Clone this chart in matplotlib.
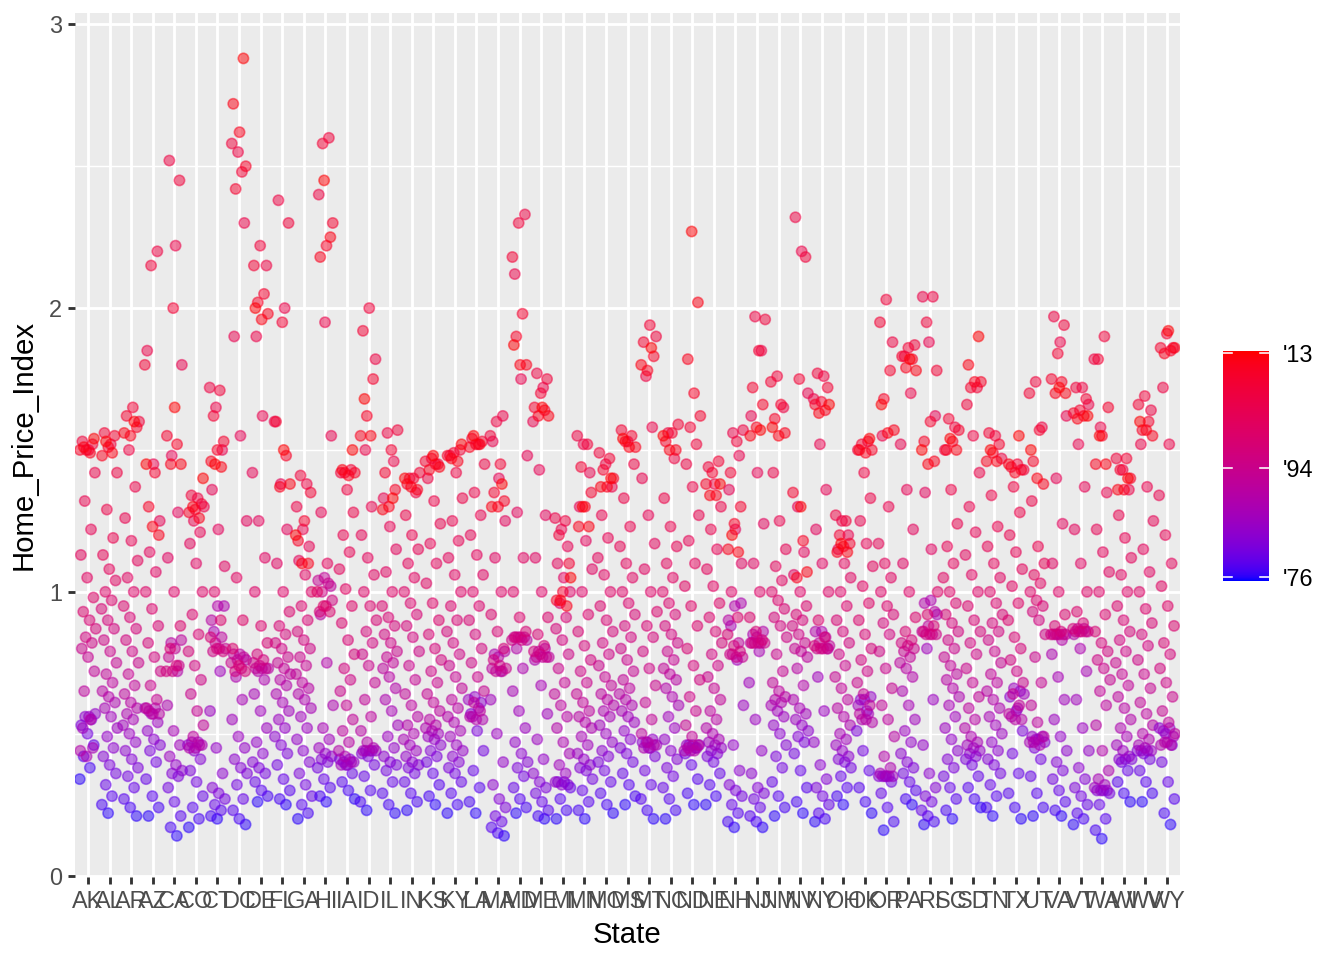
import numpy as np
import matplotlib
matplotlib.use("Agg")
import matplotlib.pyplot as plt
from matplotlib.colors import ListedColormap, Normalize

plt.rcParams["font.family"] = ["Liberation Sans", "DejaVu Sans"]

# one value per year, 1976 .. 2013
years = list(range(1976, 2014))
states = ["AK", "AL", "AR", "AZ", "CA", "CO", "CT", "DC", "DE", "FL", "GA", "HI", "IA",
          "ID", "IL", "IN", "KS", "KY", "LA", "MA", "MD", "ME", "MI", "MN", "MO", "MS",
          "MT", "NC", "ND", "NE", "NH", "NJ", "NM", "NV", "NY", "OH", "OK", "OR", "PA",
          "RI", "SC", "SD", "TN", "TX", "UT", "VA", "VT", "WA", "WI", "WV", "WY"]

AK = [.34, .38, .42, .46, .50, .53, .55, .56, .57, .56, .52, .45, .42, .44, .55, .65, .72, .77, .80, .82,
      .84, .87, .90, .93, .98, 1.05, 1.13, 1.22, 1.32, 1.42, 1.50, 1.53, 1.52, 1.50, 1.50, 1.49, 1.51, 1.54]
AL = [.22, .25, .28, .32, .36, .39, .42, .45, .49, .52, .56, .59, .61, .63, .65, .68, .71, .75, .79, .83,
      .87, .90, .94, .97, 1.00, 1.04, 1.08, 1.13, 1.19, 1.29, 1.42, 1.52, 1.56, 1.55, 1.51, 1.48, 1.49, 1.53]
AR = [.21, .24, .27, .31, .35, .38, .41, .44, .47, .50, .53, .55, .57, .59, .61, .64, .67, .71, .75, .79,
      .83, .87, .91, .95, 1.00, 1.05, 1.11, 1.18, 1.26, 1.37, 1.50, 1.60, 1.65, 1.62, 1.58, 1.55, 1.56, 1.60]
AZ = [.21, .24, .28, .34, .40, .44, .46, .48, .51, .54, .57, .59, .59, .58, .57, .57, .59, .62, .67, .72,
      .77, .82, .88, .94, 1.00, 1.07, 1.14, 1.25, 1.45, 1.85, 2.20, 2.15, 1.80, 1.42, 1.30, 1.20, 1.23, 1.45]
CA = [.14, .17, .21, .26, .31, .35, .36, .37, .39, .42, .46, .51, .60, .72, .82, .83, .80, .77, .74, .72,
      .72, .74, .80, .88, 1.00, 1.12, 1.28, 1.48, 1.80, 2.22, 2.52, 2.45, 2.00, 1.55, 1.52, 1.45, 1.45, 1.65]
CO = [.17, .20, .24, .28, .33, .37, .41, .44, .46, .47, .47, .46, .45, .45, .46, .49, .53, .58, .64, .69,
      .74, .79, .85, .92, 1.00, 1.10, 1.17, 1.21, 1.25, 1.30, 1.33, 1.34, 1.31, 1.29, 1.28, 1.26, 1.30, 1.40]
CT = [.20, .21, .23, .25, .27, .29, .31, .36, .45, .58, .72, .86, .95, .95, .90, .84, .82, .80, .80, .79,
      .79, .80, .84, .90, 1.00, 1.09, 1.22, 1.36, 1.50, 1.65, 1.72, 1.71, 1.62, 1.53, 1.50, 1.46, 1.44, 1.45]
DC = [.18, .20, .23, .27, .32, .36, .38, .41, .45, .49, .55, .62, .70, .76, .78, .78, .77, .76, .75, .73,
      .72, .72, .74, .80, .90, 1.05, 1.25, 1.55, 1.90, 2.30, 2.55, 2.58, 2.48, 2.42, 2.50, 2.62, 2.72, 2.88]
DE = [.26, .28, .30, .33, .36, .38, .40, .43, .47, .52, .58, .64, .69, .72, .73, .73, .73, .73, .74, .75,
      .76, .78, .82, .88, 1.00, 1.12, 1.25, 1.42, 1.62, 1.90, 2.15, 2.22, 2.15, 2.05, 2.02, 1.98, 1.96, 2.00]
FL = [.25, .27, .30, .34, .39, .43, .46, .49, .52, .55, .58, .61, .64, .67, .69, .71, .73, .75, .77, .80,
      .82, .85, .88, .93, 1.00, 1.10, 1.22, 1.38, 1.60, 2.00, 2.38, 2.30, 1.95, 1.60, 1.48, 1.37, 1.38, 1.50]
GA = [.20, .22, .25, .28, .32, .36, .40, .44, .48, .52, .56, .59, .62, .64, .66, .68, .71, .74, .77, .80,
      .83, .86, .90, .95, 1.00, 1.06, 1.11, 1.16, 1.22, 1.30, 1.38, 1.41, 1.35, 1.25, 1.18, 1.10, 1.10, 1.20]
HI = [.26, .28, .31, .34, .38, .40, .41, .42, .43, .45, .48, .52, .60, .75, .92, 1.02, 1.05, 1.04, 1.03, 1.00,
      .97, .95, .93, .93, .95, 1.00, 1.10, 1.28, 1.55, 1.95, 2.40, 2.60, 2.58, 2.30, 2.22, 2.18, 2.25, 2.45]
IA = [.27, .30, .33, .36, .39, .41, .41, .40, .40, .39, .39, .40, .42, .44, .47, .51, .55, .60, .65, .69,
      .73, .78, .83, .89, .95, 1.01, 1.08, 1.14, 1.20, 1.28, 1.36, 1.42, 1.43, 1.42, 1.42, 1.41, 1.43, 1.50]
ID = [.23, .26, .30, .35, .39, .42, .43, .44, .44, .44, .44, .44, .45, .47, .51, .56, .62, .68, .74, .78,
      .82, .86, .90, .95, 1.00, 1.06, 1.12, 1.20, 1.30, 1.50, 1.82, 2.00, 1.92, 1.75, 1.62, 1.55, 1.55, 1.68]
IL = [.22, .25, .29, .33, .37, .39, .40, .42, .45, .49, .53, .58, .62, .66, .70, .73, .75, .77, .79, .82,
      .85, .88, .91, .95, 1.00, 1.07, 1.15, 1.23, 1.33, 1.46, 1.56, 1.57, 1.50, 1.42, 1.36, 1.30, 1.29, 1.33]
IN = [.23, .26, .29, .33, .36, .38, .39, .40, .42, .44, .46, .48, .50, .53, .56, .60, .64, .69, .74, .79,
      .84, .88, .92, .96, 1.00, 1.05, 1.10, 1.15, 1.20, 1.27, 1.35, 1.40, 1.42, 1.40, 1.38, 1.36, 1.37, 1.40]
KS = [.25, .28, .32, .36, .40, .42, .44, .46, .48, .49, .50, .51, .52, .53, .55, .58, .61, .64, .68, .72,
      .76, .80, .85, .90, .96, 1.03, 1.10, 1.17, 1.24, 1.32, 1.40, 1.45, 1.47, 1.46, 1.45, 1.43, 1.44, 1.48]
KY = [.22, .25, .29, .33, .36, .38, .40, .42, .44, .46, .49, .51, .54, .56, .59, .62, .66, .70, .74, .78,
      .82, .86, .90, .95, 1.00, 1.06, 1.12, 1.18, 1.25, 1.33, 1.42, 1.48, 1.50, 1.49, 1.48, 1.46, 1.47, 1.52]
LA = [.22, .26, .31, .37, .44, .51, .57, .61, .63, .62, .59, .56, .55, .55, .56, .58, .61, .65, .70, .75,
      .80, .85, .90, .95, 1.00, 1.06, 1.13, 1.20, 1.27, 1.35, 1.45, 1.52, 1.54, 1.53, 1.52, 1.51, 1.52, 1.55]
MA = [.14, .15, .17, .19, .21, .24, .27, .32, .40, .50, .62, .72, .78, .79, .77, .73, .72, .72, .73, .74,
      .76, .80, .86, .92, 1.00, 1.12, 1.25, 1.40, 1.53, 1.62, 1.60, 1.55, 1.45, 1.35, 1.32, 1.30, 1.30, 1.38]
MD = [.22, .24, .27, .31, .35, .38, .40, .43, .47, .52, .58, .65, .73, .80, .83, .84, .84, .84, .84, .83,
      .83, .84, .86, .91, 1.00, 1.12, 1.28, 1.48, 1.75, 2.12, 2.33, 2.30, 2.18, 1.98, 1.90, 1.80, 1.80, 1.87]
ME = [.20, .21, .23, .26, .29, .31, .33, .36, .41, .48, .57, .67, .76, .80, .79, .77, .77, .77, .77, .78,
      .79, .81, .85, .91, 1.00, 1.12, 1.27, 1.43, 1.60, 1.72, 1.77, 1.75, 1.70, 1.65, 1.64, 1.62, 1.62, 1.65]
MI = [.20, .23, .27, .31, .33, .33, .32, .32, .33, .36, .39, .43, .47, .52, .56, .60, .64, .68, .73, .78,
      .83, .87, .91, .96, 1.00, 1.05, 1.10, 1.16, 1.22, 1.26, 1.25, 1.20, 1.10, 1.00, .97, .95, .97, 1.05]
MN = [.20, .23, .26, .30, .34, .37, .38, .39, .41, .43, .46, .49, .52, .54, .56, .58, .61, .64, .68, .72,
      .76, .81, .86, .92, 1.00, 1.08, 1.18, 1.30, 1.42, 1.52, 1.55, 1.52, 1.44, 1.35, 1.30, 1.23, 1.23, 1.30]
MO = [.22, .25, .29, .33, .37, .40, .42, .44, .47, .50, .53, .56, .58, .60, .62, .64, .67, .70, .74, .78,
      .82, .86, .90, .95, 1.00, 1.06, 1.12, 1.19, 1.27, 1.37, 1.45, 1.49, 1.47, 1.43, 1.40, 1.37, 1.37, 1.40]
MS = [.25, .28, .32, .36, .40, .43, .45, .48, .51, .54, .56, .58, .60, .62, .64, .66, .69, .72, .76, .80,
      .84, .88, .92, .96, 1.00, 1.05, 1.10, 1.16, 1.23, 1.33, 1.45, 1.53, 1.57, 1.55, 1.53, 1.51, 1.51, 1.54]
MT = [.20, .23, .27, .32, .37, .42, .45, .47, .48, .47, .46, .45, .45, .46, .47, .50, .55, .61, .67, .73,
      .79, .84, .88, .93, 1.00, 1.08, 1.17, 1.27, 1.40, 1.58, 1.76, 1.90, 1.94, 1.88, 1.83, 1.78, 1.80, 1.86]
NC = [.20, .23, .27, .31, .35, .38, .41, .44, .48, .52, .56, .60, .63, .66, .69, .71, .73, .76, .79, .82,
      .85, .88, .92, .96, 1.00, 1.05, 1.10, 1.16, 1.23, 1.33, 1.47, 1.56, 1.59, 1.56, 1.53, 1.50, 1.50, 1.55]
ND = [.25, .29, .34, .39, .43, .45, .46, .46, .46, .46, .45, .44, .44, .44, .45, .46, .49, .53, .58, .63,
      .69, .74, .80, .88, .95, 1.02, 1.10, 1.18, 1.27, 1.37, 1.45, 1.52, 1.58, 1.62, 1.70, 1.82, 2.02, 2.27]
NE = [.25, .28, .32, .36, .40, .42, .43, .44, .45, .46, .47, .48, .50, .52, .55, .58, .62, .66, .70, .74,
      .78, .82, .86, .91, .96, 1.02, 1.08, 1.15, 1.22, 1.30, 1.38, 1.44, 1.46, 1.42, 1.38, 1.34, 1.34, 1.38]
NH = [.17, .19, .22, .25, .28, .30, .32, .37, .46, .60, .76, .88, .96, .95, .90, .82, .78, .77, .77, .78,
      .79, .81, .85, .91, 1.00, 1.10, 1.22, 1.36, 1.48, 1.56, 1.57, 1.53, 1.42, 1.30, 1.24, 1.15, 1.14, 1.20]
NJ = [.17, .19, .21, .24, .27, .29, .31, .36, .44, .55, .68, .79, .85, .86, .84, .82, .82, .82, .82, .82,
      .82, .83, .86, .91, 1.00, 1.10, 1.24, 1.42, 1.62, 1.85, 1.97, 1.96, 1.85, 1.72, 1.66, 1.58, 1.55, 1.57]
NM = [.21, .24, .28, .33, .38, .42, .46, .50, .53, .56, .58, .60, .61, .62, .63, .65, .68, .72, .78, .84,
      .88, .91, .94, .97, 1.00, 1.04, 1.09, 1.15, 1.25, 1.42, 1.65, 1.76, 1.74, 1.66, 1.61, 1.56, 1.55, 1.58]
NV = [.22, .26, .31, .37, .43, .47, .49, .51, .53, .55, .57, .59, .62, .67, .73, .77, .79, .80, .82, .85,
      .88, .90, .92, .95, 1.00, 1.06, 1.14, 1.30, 1.70, 2.20, 2.32, 2.18, 1.75, 1.35, 1.18, 1.05, 1.07, 1.30]
NY = [.19, .20, .22, .25, .28, .31, .34, .39, .47, .58, .70, .80, .86, .86, .84, .82, .81, .80, .80, .80,
      .80, .81, .84, .90, 1.00, 1.10, 1.22, 1.36, 1.52, 1.68, 1.76, 1.77, 1.72, 1.67, 1.66, 1.64, 1.63, 1.66]
OH = [.25, .28, .31, .35, .38, .40, .41, .42, .44, .46, .48, .50, .53, .56, .59, .62, .66, .70, .74, .78,
      .82, .86, .90, .95, 1.00, 1.05, 1.10, 1.15, 1.20, 1.25, 1.27, 1.25, 1.20, 1.17, 1.16, 1.14, 1.14, 1.17]
OK = [.22, .26, .31, .37, .44, .51, .58, .62, .63, .62, .60, .57, .55, .54, .55, .57, .60, .64, .68, .72,
      .76, .80, .85, .90, .96, 1.02, 1.09, 1.17, 1.25, 1.33, 1.42, 1.50, 1.53, 1.52, 1.50, 1.49, 1.50, 1.54]
OR = [.16, .19, .24, .29, .33, .35, .35, .35, .35, .35, .35, .36, .38, .42, .49, .55, .60, .66, .73, .79,
      .85, .89, .92, .95, 1.00, 1.05, 1.10, 1.17, 1.30, 1.55, 1.88, 2.03, 1.95, 1.78, 1.68, 1.57, 1.56, 1.66]
PA = [.25, .27, .30, .33, .36, .38, .40, .43, .47, .51, .55, .60, .65, .70, .73, .75, .77, .79, .80, .81,
      .82, .83, .86, .91, 1.00, 1.10, 1.22, 1.36, 1.52, 1.70, 1.83, 1.87, 1.86, 1.83, 1.82, 1.79, 1.78, 1.82]
RI = [.18, .19, .21, .23, .26, .28, .31, .36, .46, .62, .80, .92, .97, .96, .93, .88, .86, .85, .85, .85,
      .85, .86, .88, .92, 1.00, 1.15, 1.35, 1.62, 1.88, 2.04, 2.04, 1.95, 1.78, 1.60, 1.53, 1.46, 1.45, 1.50]
SC = [.20, .23, .27, .31, .35, .38, .41, .44, .48, .52, .56, .60, .63, .66, .69, .71, .74, .77, .80, .83,
      .86, .89, .92, .96, 1.00, 1.05, 1.10, 1.16, 1.24, 1.36, 1.50, 1.58, 1.61, 1.57, 1.53, 1.50, 1.50, 1.54]
SD = [.24, .27, .31, .35, .39, .41, .42, .43, .44, .45, .46, .47, .49, .52, .55, .59, .63, .68, .73, .78,
      .82, .86, .90, .95, 1.00, 1.06, 1.13, 1.21, 1.30, 1.42, 1.55, 1.66, 1.72, 1.72, 1.74, 1.74, 1.80, 1.90]
TN = [.21, .24, .28, .32, .36, .39, .41, .44, .47, .50, .53, .56, .59, .62, .65, .68, .71, .75, .79, .83,
      .86, .89, .92, .96, 1.00, 1.05, 1.10, 1.16, 1.23, 1.34, 1.47, 1.55, 1.56, 1.52, 1.49, 1.46, 1.46, 1.50]
TX = [.20, .24, .29, .36, .43, .51, .58, .63, .65, .66, .64, .59, .56, .55, .55, .57, .60, .64, .68, .72,
      .76, .80, .84, .90, .96, 1.02, 1.08, 1.14, 1.20, 1.28, 1.37, 1.43, 1.45, 1.44, 1.43, 1.42, 1.45, 1.55]
UT = [.21, .24, .29, .35, .41, .45, .47, .48, .49, .49, .48, .47, .46, .47, .49, .54, .60, .68, .77, .85,
      .90, .93, .95, .97, 1.00, 1.03, 1.06, 1.10, 1.16, 1.32, 1.58, 1.74, 1.70, 1.57, 1.46, 1.38, 1.40, 1.50]
VA = [.21, .23, .26, .30, .34, .37, .40, .44, .49, .55, .62, .70, .78, .83, .85, .85, .85, .85, .85, .85,
      .85, .86, .88, .92, 1.00, 1.10, 1.24, 1.40, 1.62, 1.88, 1.97, 1.94, 1.84, 1.75, 1.74, 1.70, 1.70, 1.72]
VT = [.18, .20, .22, .25, .28, .31, .34, .38, .44, .52, .62, .72, .80, .85, .87, .87, .86, .86, .86, .86,
      .86, .87, .89, .93, 1.00, 1.10, 1.22, 1.37, 1.52, 1.66, 1.72, 1.72, 1.68, 1.64, 1.63, 1.62, 1.61, 1.62]
WA = [.13, .16, .20, .25, .29, .30, .30, .30, .30, .31, .32, .34, .37, .44, .53, .60, .65, .69, .73, .76,
      .79, .82, .86, .92, 1.00, 1.07, 1.14, 1.22, 1.35, 1.58, 1.82, 1.90, 1.82, 1.65, 1.55, 1.45, 1.45, 1.55]
WI = [.26, .29, .33, .37, .40, .41, .41, .41, .42, .44, .46, .49, .52, .55, .59, .63, .67, .71, .75, .79,
      .83, .86, .90, .95, 1.00, 1.06, 1.12, 1.19, 1.27, 1.36, 1.43, 1.47, 1.47, 1.43, 1.40, 1.36, 1.36, 1.40]
WV = [.26, .29, .33, .37, .41, .43, .44, .44, .44, .44, .45, .46, .48, .50, .53, .57, .61, .66, .71, .76,
      .81, .85, .89, .94, 1.00, 1.07, 1.15, 1.25, 1.37, 1.52, 1.64, 1.69, 1.66, 1.60, 1.57, 1.55, 1.57, 1.60]
WY = [.18, .22, .27, .33, .40, .46, .50, .52, .52, .51, .49, .47, .46, .46, .47, .50, .54, .58, .63, .68,
      .73, .78, .82, .88, .95, 1.02, 1.10, 1.20, 1.34, 1.52, 1.72, 1.86, 1.91, 1.86, 1.85, 1.84, 1.86, 1.92]

hpi = [AK, AL, AR, AZ, CA, CO, CT, DC, DE, FL, GA, HI, IA, ID, IL, IN, KS, KY, LA, MA, MD, ME,
       MI, MN, MO, MS, MT, NC, ND, NE, NH, NJ, NM, NV, NY, OH, OK, OR, PA, RI, SC, SD, TN, TX,
       UT, VA, VT, WA, WI, WV, WY]

color_ticks = [1976, 1994, 2013]
color_labels = ["'76", "'94", "'13"]


def srgb_to_lab(rgb):
    c = np.asarray(rgb, dtype=float)
    lin = np.where(c <= 0.04045, c / 12.92, ((c + 0.055) / 1.055) ** 2.4)
    m = np.array([[0.4124, 0.3576, 0.1805],
                  [0.2126, 0.7152, 0.0722],
                  [0.0193, 0.1192, 0.9505]])
    xyz = m @ lin / np.array([0.95047, 1.0, 1.08883])
    f = np.where(xyz > 0.008856, np.cbrt(xyz), 7.787 * xyz + 16 / 116)
    return np.array([116 * f[1] - 16, 500 * (f[0] - f[1]), 200 * (f[1] - f[2])])


def lab_to_srgb(lab):
    L, a, b = lab
    fy = (L + 16) / 116
    f = np.array([fy + a / 500, fy, fy - b / 200])
    xyz = np.where(f ** 3 > 0.008856, f ** 3, (f - 16 / 116) / 7.787)
    xyz = xyz * np.array([0.95047, 1.0, 1.08883])
    minv = np.array([[3.2406, -1.5372, -0.4986],
                     [-0.9689, 1.8758, 0.0415],
                     [0.0557, -0.2040, 1.0570]])
    lin = np.clip(minv @ xyz, 0, 1)
    c = np.where(lin <= 0.0031308, 12.92 * lin, 1.055 * lin ** (1 / 2.4) - 0.055)
    return np.clip(c, 0, 1)


# blue -> red gradient interpolated in Lab, like scale_colour_gradient
lab_lo = srgb_to_lab([0, 0, 1])
lab_hi = srgb_to_lab([1, 0, 0])
cmap = ListedColormap([lab_to_srgb(lab_lo + (lab_hi - lab_lo) * t) for t in np.linspace(0, 1, 256)])
vmin, vmax = 1975.35, 2013.35
norm = Normalize(vmin, vmax)

fig = plt.figure(figsize=(7, 5), dpi=192)
ax = fig.add_axes([75 / 1344, 1 - 877 / 960, (1180 - 75) / 1344, (877 - 13) / 960])
ax.set_facecolor("#EBEBEB")

xs, ys, cs = [], [], []
for i, vals in enumerate(hpi):
    for k, v in enumerate(vals):
        offset = ((k * 0.6180339 + i * 0.4142136) % 1.0 - 0.5) * 0.76
        xs.append(i + 1 + offset)
        ys.append(v)
        cs.append(years[k])

ax.scatter(xs, ys, c=cs, cmap=cmap, norm=norm, s=15, alpha=0.5,
           edgecolors="face", linewidths=0.6, zorder=3)

ax.set_xlim(0.4, len(states) + 0.6)
ax.set_ylim(-0.005, 3.04)
ax.set_xticks(range(1, len(states) + 1))
ax.set_xticklabels(states)
ax.set_yticks([0, 1, 2, 3])
ax.set_yticks([0.5, 1.5, 2.5], minor=True)
ax.grid(True, which="major", color="white", linewidth=1.07, zorder=0)
ax.grid(True, which="minor", axis="y", color="white", linewidth=0.53, zorder=0)
ax.set_axisbelow(True)
for sp in ax.spines.values():
    sp.set_visible(False)
ax.tick_params(which="major", length=2.75, width=1.07, color="#333333",
               labelsize=8.8, labelcolor="#4D4D4D", pad=2.2)
ax.tick_params(which="minor", length=0)
ax.set_xlabel("State", fontsize=11, labelpad=3)
ax.set_ylabel("Home_Price_Index", fontsize=11, labelpad=4)

# colour bar legend
cax = fig.add_axes([1223 / 1344, 1 - 581 / 960, 46 / 1344, 230 / 960])
grad = np.linspace(vmin, vmax, 400).reshape(-1, 1)
cax.imshow(grad, cmap=cmap, norm=norm, aspect="auto", origin="lower",
           extent=[0, 1, vmin, vmax])
cax.set_xlim(0, 1)
cax.set_ylim(vmin, vmax)
for t in color_ticks:
    cax.plot([0, 0.2], [t, t], color="white", linewidth=0.6)
    cax.plot([0.8, 1], [t, t], color="white", linewidth=0.6)
cax.set_xticks([])
cax.yaxis.tick_right()
cax.set_yticks(color_ticks)
cax.set_yticklabels(color_labels)
cax.tick_params(length=0, labelsize=8.8, pad=5)
for sp in cax.spines.values():
    sp.set_visible(False)

fig.savefig("out.png", dpi=192)
